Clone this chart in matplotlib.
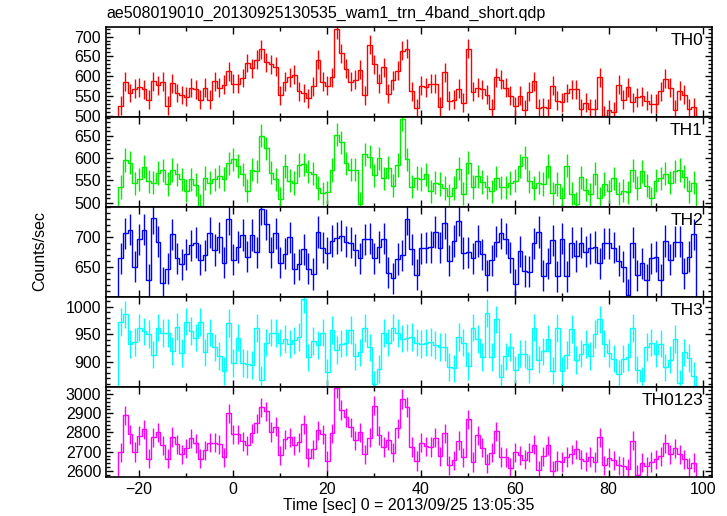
import numpy as np
import matplotlib
matplotlib.use("Agg")
import matplotlib.pyplot as plt
from matplotlib.ticker import MultipleLocator

plt.rcParams['font.family'] = ['Liberation Sans', 'DejaVu Sans']

title = "ae508019010_20130925130535_wam1_trn_4band_short.qdp"
xlabel = "Time [sec] 0 = 2013/09/25 13:05:35"
ylabel = "Counts/sec"

t_start = -24.4
bin_width = 1.0

th0 = [525, 585, 557, 568, 571, 567, 540, 587, 577, 586, 525, 582, 557, 552, 547, 570, 567, 540, 570, 540,
       587, 570, 578, 612, 580, 580, 595, 633, 620, 641, 668, 635, 630, 624, 551, 585, 597, 603, 561, 557,
       544, 574, 641, 585, 576, 597, 718, 658, 618, 585, 591, 616, 551, 679, 630, 582, 622, 555, 589, 614,
       664, 669, 562, 519, 576, 571, 581, 581, 522, 610, 538, 540, 568, 532, 669, 560, 570, 566, 553, 517,
       597, 591, 570, 550, 524, 550, 515, 560, 587, 519, 521, 519, 576, 538, 534, 557, 566, 567, 517, 532,
       517, 517, 597, 500, 515, 509, 578, 540, 571, 534, 546, 549, 538, 530, 530, 561, 593, 570, 515, 563,
       553, 517, 521]
th1 = [535, 595, 589, 543, 552, 580, 548, 545, 566, 572, 542, 573, 563, 552, 527, 552, 540, 493, 555, 545,
       552, 559, 553, 588, 597, 582, 563, 527, 574, 570, 650, 621, 567, 552, 508, 582, 549, 544, 584, 586,
       569, 565, 533, 521, 523, 573, 652, 635, 588, 574, 574, 498, 608, 603, 561, 599, 554, 578, 538, 584,
       686, 597, 536, 555, 553, 563, 525, 545, 542, 533, 516, 533, 576, 520, 589, 535, 559, 546, 535, 525,
       555, 534, 534, 544, 549, 582, 601, 548, 533, 545, 542, 582, 521, 542, 510, 583, 520, 498, 557, 529,
       519, 565, 510, 542, 525, 554, 520, 527, 523, 572, 533, 570, 538, 510, 549, 554, 565, 545, 570, 573,
       558, 525, 545]
th2 = [664, 706, 712, 650, 696, 712, 628, 731, 692, 623, 647, 704, 664, 654, 671, 686, 690, 662, 669, 707,
       678, 699, 657, 729, 662, 683, 703, 667, 703, 674, 746, 721, 674, 706, 657, 672, 699, 647, 654, 679,
       647, 638, 708, 682, 673, 693, 698, 702, 692, 690, 678, 664, 696, 697, 664, 683, 697, 640, 631, 663,
       669, 729, 679, 637, 681, 682, 683, 708, 682, 723, 660, 693, 727, 673, 674, 664, 693, 671, 636, 661,
       692, 706, 697, 665, 621, 676, 643, 642, 689, 708, 635, 656, 694, 634, 697, 634, 690, 668, 690, 675,
       681, 683, 656, 689, 689, 682, 660, 650, 603, 690, 636, 656, 628, 664, 667, 628, 693, 662, 692, 692,
       639, 667, 704]
th3 = [972, 986, 932, 936, 962, 955, 950, 913, 962, 952, 952, 920, 964, 916, 973, 956, 944, 972, 917, 953,
       926, 911, 883, 970, 898, 944, 898, 896, 894, 961, 868, 935, 953, 952, 935, 941, 932, 939, 945, 1014,
       908, 938, 930, 953, 881, 958, 921, 933, 935, 958, 910, 917, 961, 926, 859, 887, 952, 935, 962, 952,
       942, 944, 945, 935, 932, 935, 936, 930, 927, 927, 891, 888, 945, 935, 892, 962, 941, 909, 988, 909,
       977, 872, 910, 927, 886, 915, 914, 887, 962, 904, 919, 942, 884, 961, 883, 912, 959, 903, 915, 932,
       911, 950, 977, 933, 916, 906, 878, 906, 909, 961, 886, 865, 927, 935, 915, 933, 890, 904, 941, 861,
       917, 907, 874]
th0123 = [2696, 2890, 2791, 2699, 2783, 2816, 2664, 2774, 2800, 2734, 2664, 2777, 2739, 2687, 2717, 2769,
          2743, 2664, 2708, 2746, 2746, 2739, 2670, 2899, 2791, 2791, 2755, 2734, 2795, 2847, 2930, 2911,
          2803, 2830, 2682, 2765, 2774, 2734, 2748, 2842, 2668, 2713, 2812, 2791, 2652, 2795, 3030, 2917,
          2878, 2826, 2760, 2800, 2687, 2772, 2939, 2786, 2725, 2760, 2694, 2821, 2974, 2932, 2725, 2652,
          2746, 2729, 2725, 2772, 2677, 2795, 2630, 2656, 2757, 2670, 2868, 2647, 2786, 2720, 2638, 2694,
          2807, 2673, 2670, 2617, 2696, 2682, 2659, 2696, 2737, 2603, 2677, 2734, 2600, 2652, 2647, 2673,
          2687, 2713, 2661, 2650, 2673, 2647, 2774, 2630, 2668, 2656, 2630, 2624, 2612, 2757, 2581, 2642,
          2624, 2647, 2661, 2677, 2743, 2687, 2717, 2687, 2661, 2617, 2643]

errors = [24, 26, 26, 25, 50]
names = ["TH0", "TH1", "TH2", "TH3", "TH0123"]
colors = ["#ff0000", "#00ee00", "#0000ff", "#00ffff", "#ff00ff"]
ylims = [(497, 725), (491, 692), (600, 750), (855, 1018), (2570, 3038)]
yticks = [[500, 550, 600, 650, 700], [500, 550, 600, 650], [650, 700], [900, 950, 1000],
          [2600, 2700, 2800, 2900, 3000]]
yminor = [10, 10, 10, 10, 20]

series = [th0, th1, th2, th3, th0123]

fig = plt.figure(figsize=(7.27, 5.16), dpi=100)
left, right = 106 / 727, 712 / 727
top_px, bot_px = 26.7, 476.7
ph = (bot_px - top_px) / 5

for k in range(5):
    y0 = 1 - (top_px + (k + 1) * ph) / 516
    ax = fig.add_axes([left, y0, right - left, ph / 516])
    vals = np.array(series[k], dtype=float)
    n = len(vals)
    edges = t_start + bin_width * np.arange(n + 1)
    centers = edges[:-1] + bin_width / 2
    ax.stairs(vals, edges, color=colors[k], lw=1.0)
    ax.errorbar(centers, vals, yerr=errors[k], fmt='none', ecolor=colors[k], elinewidth=1.0, capsize=0)
    ax.set_xlim(-27, 102)
    ax.set_ylim(*ylims[k])
    ax.set_yticks(yticks[k])
    ax.yaxis.set_minor_locator(MultipleLocator(yminor[k]))
    ax.xaxis.set_major_locator(MultipleLocator(20))
    ax.xaxis.set_minor_locator(MultipleLocator(10))
    ax.tick_params(which='both', direction='in', top=True, right=True, labelsize=11.5, width=1.0)
    ax.tick_params(which='major', length=5)
    ax.tick_params(which='minor', length=3)
    for s in ax.spines.values():
        s.set_linewidth(1.2)
    if k < 4:
        ax.tick_params(labelbottom=False)
    else:
        ax.set_xlabel(xlabel, fontsize=11.5, labelpad=1)
    ax.text(0.985, 0.93, names[k], transform=ax.transAxes, ha='right', va='top', fontsize=12.5)

fig.text(left, 1 - 13 / 516, title, ha='left', va='center', fontsize=11.5)
fig.text(40 / 727, 1 - 251 / 516, ylabel, rotation=90, ha='center', va='center', fontsize=11.5)

fig.savefig("out.png", dpi=100)
